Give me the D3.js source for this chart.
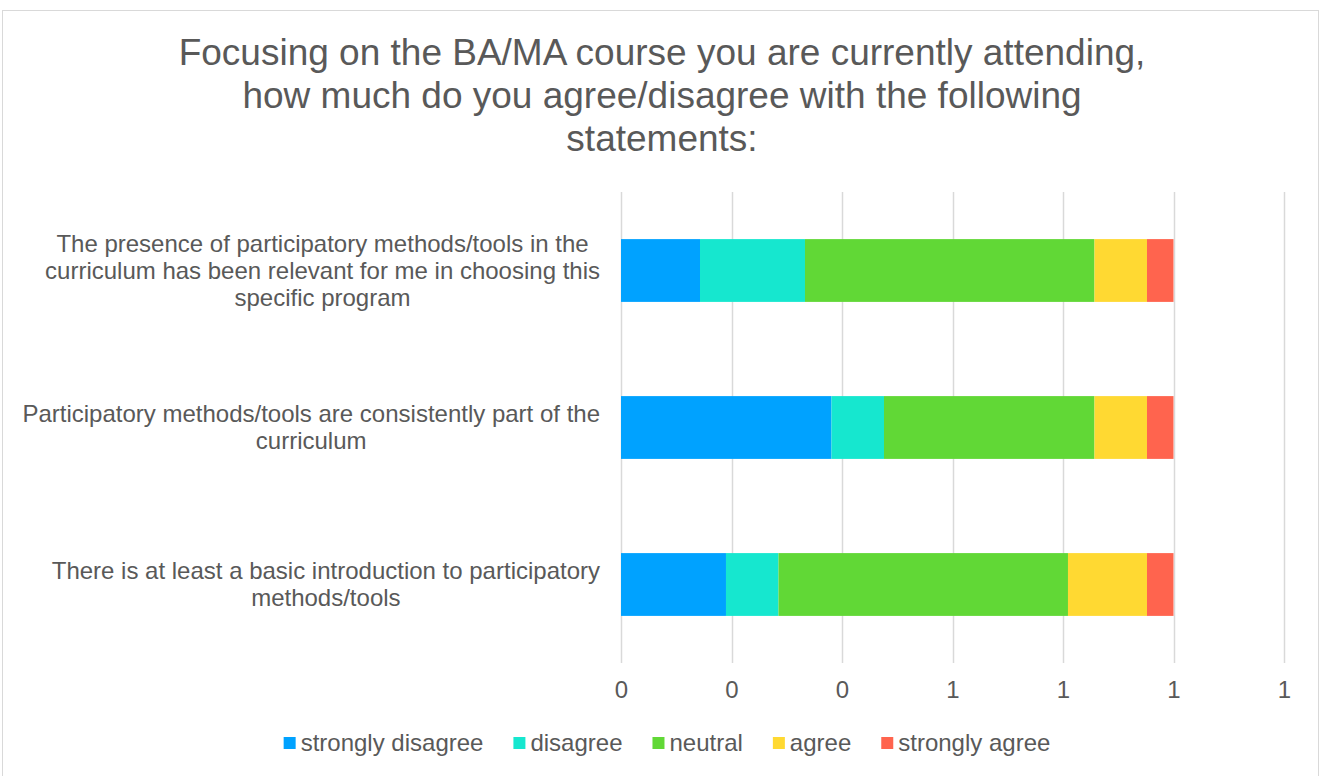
<!DOCTYPE html>
<html>
<head>
<meta charset="utf-8">
<script src="https://cdn.jsdelivr.net/npm/d3@7"></script>
<style>
  body { margin: 0; background: #fff; }
  text { font-family: "Liberation Sans", Arial, sans-serif; fill: #595959; }
</style>
</head>
<body>
<div id="chart"></div>
<script>
// Survey answers as shares of respondents
const categories = [
  "The presence of participatory methods/tools in the|curriculum has been relevant for me in choosing this|specific program",
  "Participatory methods/tools are consistently part of the|curriculum",
  "There is at least a basic introduction to participatory|methods/tools"
];
const seriesNames = ["strongly disagree", "disagree", "neutral", "agree", "strongly agree"];
const stronglyDisagree = [0.143, 0.381, 0.190];
const disagree         = [0.190, 0.095, 0.095];
const neutral          = [0.524, 0.381, 0.524];
const agree            = [0.095, 0.095, 0.143];
const stronglyAgree    = [0.048, 0.048, 0.048];
const xTicks = [0, 0.2, 0.4, 0.6, 0.8, 1.0, 1.2];
const colours = ["#00A2FF", "#16E7CF", "#61D836", "#FFD932", "#FF644E"];
const titleLines = [
  "Focusing on the BA/MA course you are currently attending,",
  "how much do you agree/disagree with the following",
  "statements:"
];

const width = 1325, height = 776;
const margin = { top: 192, bottom: 113, left: 621, right: 41 };

let svg = d3.select("#chart").append("svg")
    .attr("width", width)
    .attr("height", height);

// Chart frame
svg.append("rect")
    .attr("x", 2.5).attr("y", 10.5)
    .attr("width", 1316).attr("height", 780)
    .attr("fill", "none")
    .attr("stroke", "#d9d9d9");

// Title
svg.append("text")
    .attr("text-anchor", "middle")
    .style("font-size", "37px")
    .selectAll("tspan").data(titleLines).join("tspan")
        .attr("x", 662)
        .attr("y", (d, i) => 65 + i * 43)
        .text(d => d);

// Scales
let x = d3.scaleLinear()
    .domain([0, 1.2])
    .range([margin.left, width - margin.right]);
let y = d3.scaleBand()
    .domain(categories)
    .range([margin.top, height - margin.bottom])
    .paddingInner(0.6)
    .paddingOuter(0.3);

// Grid lines
svg.append("g")
    .selectAll("line").data(xTicks).join("line")
        .attr("x1", d => Math.round(x(d)) + 0.5)
        .attr("x2", d => Math.round(x(d)) + 0.5)
        .attr("y1", margin.top)
        .attr("y2", height - margin.bottom)
        .attr("stroke", "#d9d9d9")
        .attr("stroke-width", 1.5);

// X axis labels (number format with no decimals, as in the original)
let xAxis = svg.append("g")
    .attr("transform", "translate(0," + (height - margin.bottom) + ")")
    .call(d3.axisBottom(x).tickValues(xTicks).tickFormat(d3.format(".0f")).tickSize(0).tickPadding(18));
xAxis.select(".domain").remove();
xAxis.selectAll("text")
    .style("font-size", "24px")
    .style("font-family", "'Liberation Sans', Arial, sans-serif")
    .attr("fill", "#595959");

// Stack the series
let rows = categories.map((c, i) => ({
    cat: c,
    "strongly disagree": stronglyDisagree[i],
    "disagree": disagree[i],
    "neutral": neutral[i],
    "agree": agree[i],
    "strongly agree": stronglyAgree[i]
}));
let stacked = d3.stack().keys(seriesNames)(rows);

svg.append("g")
    .selectAll("g").data(stacked).join("g")
        .attr("fill", (d, i) => colours[i])
    .selectAll("rect").data(d => d).join("rect")
        .attr("x", d => x(d[0]))
        .attr("y", d => y(d.data.cat))
        .attr("width", d => x(d[1]) - x(d[0]))
        .attr("height", y.bandwidth());

// Category labels, each block centred and its right edge at x=600
let lineH = 27;
categories.forEach(c => {
    let lines = c.split("|");
    let g = svg.append("text").style("font-size", "24px").attr("text-anchor", "middle");
    let cy = y(c) + y.bandwidth() / 2;
    let y0 = cy - (lines.length - 1) * lineH / 2 + 8;
    let spans = g.selectAll("tspan").data(lines).join("tspan")
        .attr("y", (d, i) => y0 + i * lineH)
        .text(d => d);
    let maxW = 0;
    spans.each(function() { maxW = Math.max(maxW, this.getComputedTextLength()); });
    spans.attr("x", 600 - maxW / 2);
});

// Legend
let legend = svg.append("g");
let lx = 0;
seriesNames.forEach((s, i) => {
    legend.append("rect")
        .attr("x", lx).attr("y", 737)
        .attr("width", 12).attr("height", 12)
        .attr("fill", colours[i]);
    let t = legend.append("text").text(s)
        .attr("x", lx + 17).attr("y", 751)
        .style("font-size", "24px");
    lx += 17 + t.node().getComputedTextLength() + 30;
});
let legW = lx - 30;
legend.attr("transform", "translate(" + (667 - legW / 2) + ",0)");
</script>
</body>
</html>
